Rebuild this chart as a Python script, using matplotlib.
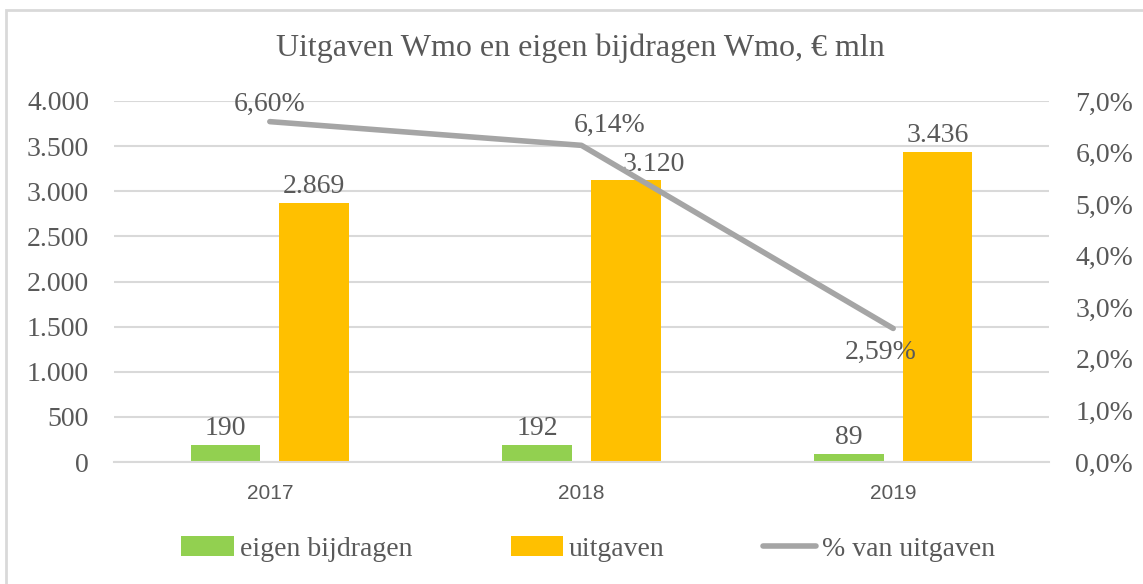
import matplotlib.pyplot as plt
import numpy as np
from matplotlib.patches import Rectangle

years = ["2017", "2018", "2019"]
eigen_bijdragen = [190, 192, 89]
uitgaven = [2869, 3120, 3436]
pct_van_uitgaven = [6.60, 6.14, 2.59]

green = "#92D050"
orange = "#FFC000"
grey_line = "#A5A5A5"
txt = "#595959"
grid = "#D9D9D9"
serif = "Liberation Serif"
fs = 20

W, H = 1143, 584
fig = plt.figure(figsize=(W / 100, H / 100), dpi=100)
ax = fig.add_axes([114 / W, 1 - 462 / H, (1049 - 114) / W, (462 - 101) / H])

# chart border (runs off the right and bottom edge)
fig.patches.append(Rectangle((6 / W, -0.1), 1.2, 1 - 10 / H + 0.1, transform=fig.transFigure,
                             fill=False, edgecolor=grid, lw=2, clip_on=False))

x = np.arange(len(years))
bw = 0.224
off = 0.1425
b1 = ax.bar(x - off, eigen_bijdragen, bw, color=green, label="eigen bijdragen", zorder=2)
b2 = ax.bar(x + off, uitgaven, bw, color=orange, label="uitgaven", zorder=2)

ax.set_xlim(-0.5, 2.5)
ax.set_ylim(0, 4000)
ax.set_yticks(range(0, 4001, 500))
ax.set_yticklabels([f"{v:,}".replace(",", ".") for v in range(0, 4001, 500)],
                   fontfamily=serif, fontsize=fs, color=txt)
ax.set_xticks(x)
ax.set_xticklabels(years, fontfamily="Liberation Sans", fontsize=15, color=txt)
ax.tick_params(axis="both", length=0)
ax.tick_params(axis="y", pad=18)
ax.tick_params(axis="x", pad=16)
ax.grid(axis="y", color=grid, lw=1.5, zorder=0)
for s in ["top", "right", "left"]:
    ax.spines[s].set_visible(False)
ax.spines["bottom"].set_color(grid)
ax.spines["bottom"].set_linewidth(1.5)

for xi, v in zip(x, eigen_bijdragen):
    ax.text(xi - off, v + 40, f"{v:,}".replace(",", "."), ha="center", va="bottom",
            fontfamily=serif, fontsize=fs, color=txt)
# Excel nudged the 2018 label to the right
uit_dx = [0, 0.09, 0]
for xi, v, dx in zip(x, uitgaven, uit_dx):
    ax.text(xi + off + dx, v + 40, f"{v:,}".replace(",", "."), ha="center", va="bottom",
            fontfamily=serif, fontsize=fs, color=txt)

ax2 = ax.twinx()
ax2.set_ylim(0, 7)
ax2.set_yticks(range(0, 8))
ax2.set_yticklabels([f"{v},0%" for v in range(0, 8)], fontfamily=serif, fontsize=fs, color=txt)
ax2.tick_params(axis="y", length=0, pad=19)
for s in ax2.spines.values():
    s.set_visible(False)
ln, = ax2.plot(x, pct_van_uitgaven, color=grey_line, lw=4, solid_capstyle="round",
               label="% van uitgaven", zorder=3)
pct_dx = [0, 0.09, -0.04]
pct_dy = [0.1, 0.15, -0.22]
for xi, v, dx, dy in zip(x, pct_van_uitgaven, pct_dx, pct_dy):
    ax2.text(xi + dx, v + dy, f"{v:.2f}%".replace(".", ","), ha="center",
             va="bottom" if dy > 0 else "top", fontfamily=serif, fontsize=fs, color=txt)

fig.text(580 / W, 1 - 48 / H, "Uitgaven Wmo en eigen bijdragen Wmo, € mln", ha="center", va="center",
         fontfamily=serif, fontsize=23, color=txt)

leg = fig.legend([b1, b2, ln], ["eigen bijdragen", "uitgaven", "% van uitgaven"],
                 loc="center", bbox_to_anchor=(588 / W, 1 - 549 / H), ncol=3, frameon=False,
                 prop={"family": serif, "size": fs}, handlelength=1.9, handletextpad=0.2,
                 columnspacing=3.55)
for t in leg.get_texts():
    t.set_color(txt)
    t.set_fontfamily(serif)

fig.savefig("out.png", dpi=100)
